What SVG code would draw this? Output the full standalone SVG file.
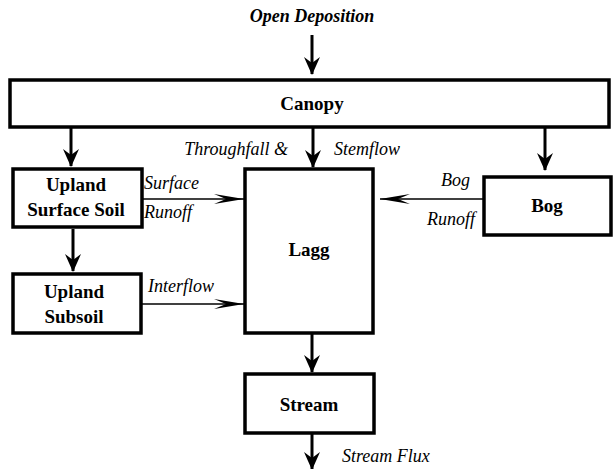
<svg xmlns="http://www.w3.org/2000/svg" width="613" height="469" viewBox="0 0 613 469">
  <defs>
    <marker id="headBig" viewBox="0 0 18 16" refX="17" refY="8" markerWidth="18" markerHeight="16" markerUnits="userSpaceOnUse" orient="auto">
      <path d="M0,0 L18,8 L0,16 L6,8 Z" fill="#000"/>
    </marker>
    <marker id="headSmall" viewBox="0 0 30 10" refX="30" refY="5" markerWidth="30" markerHeight="10" markerUnits="userSpaceOnUse" orient="auto">
      <path d="M0,0 L30,5 L0,10 L12,5 Z" fill="#000"/>
    </marker>
  </defs>

  <text x="312" y="22" font-family="Liberation Serif, serif" font-size="18" font-style="italic" font-weight="bold" text-anchor="middle">Open Deposition</text>

  <g id="canopy">
    <rect x="10" y="80" width="599" height="47" fill="#fff" stroke="#000" stroke-width="3.5"/>
    <text x="312" y="110" font-family="Liberation Serif, serif" font-size="19" font-weight="bold" text-anchor="middle">Canopy</text>
  </g>
  <g id="upland-surface-soil">
    <rect x="13" y="169" width="129" height="58" fill="#fff" stroke="#000" stroke-width="3.5"/>
    <text x="76" y="191" font-family="Liberation Serif, serif" font-size="19" font-weight="bold" text-anchor="middle">Upland</text>
    <text x="76" y="216" font-family="Liberation Serif, serif" font-size="19" font-weight="bold" text-anchor="middle">Surface Soil</text>
  </g>
  <g id="upland-subsoil">
    <rect x="13" y="274" width="128" height="59" fill="#fff" stroke="#000" stroke-width="3.5"/>
    <text x="74" y="298" font-family="Liberation Serif, serif" font-size="19" font-weight="bold" text-anchor="middle">Upland</text>
    <text x="74" y="323" font-family="Liberation Serif, serif" font-size="19" font-weight="bold" text-anchor="middle">Subsoil</text>
  </g>
  <g id="lagg">
    <rect x="245" y="169" width="128" height="164" fill="#fff" stroke="#000" stroke-width="3.5"/>
    <text x="309" y="256" font-family="Liberation Serif, serif" font-size="19" font-weight="bold" text-anchor="middle">Lagg</text>
  </g>
  <g id="bog">
    <rect x="484" y="177" width="127" height="58" fill="#fff" stroke="#000" stroke-width="3.5"/>
    <text x="547" y="212" font-family="Liberation Serif, serif" font-size="19" font-weight="bold" text-anchor="middle">Bog</text>
  </g>
  <g id="stream">
    <rect x="245" y="374" width="129" height="59" fill="#fff" stroke="#000" stroke-width="3.5"/>
    <text x="309" y="411" font-family="Liberation Serif, serif" font-size="19" font-weight="bold" text-anchor="middle">Stream</text>
  </g>

  <g id="connectors" stroke="#000" fill="none">
    <line x1="312" y1="35" x2="312" y2="74" stroke-width="3" marker-end="url(#headBig)"/>
    <line x1="71" y1="128" x2="71" y2="166" stroke-width="3" marker-end="url(#headBig)"/>
    <line x1="313" y1="128" x2="313" y2="167" stroke-width="3" marker-end="url(#headBig)"/>
    <line x1="545" y1="128" x2="545" y2="170" stroke-width="3" marker-end="url(#headBig)"/>
    <line x1="73" y1="229" x2="73" y2="271" stroke-width="3" marker-end="url(#headBig)"/>
    <line x1="143" y1="199" x2="244" y2="199" stroke-width="1.6" marker-end="url(#headSmall)"/>
    <line x1="142" y1="304" x2="244" y2="304" stroke-width="1.6" marker-end="url(#headSmall)"/>
    <line x1="483" y1="199" x2="380" y2="199" stroke-width="1.6" marker-end="url(#headSmall)"/>
    <line x1="312" y1="334" x2="312" y2="372" stroke-width="3" marker-end="url(#headBig)"/>
    <line x1="312" y1="434" x2="312" y2="469" stroke-width="3" marker-end="url(#headBig)"/>
  </g>

  <text x="288" y="155" font-family="Liberation Serif, serif" font-size="18" font-style="italic" text-anchor="end">Throughfall &amp;</text>
  <text x="334" y="155" font-family="Liberation Serif, serif" font-size="18" font-style="italic">Stemflow</text>
  <text x="144" y="189" font-family="Liberation Serif, serif" font-size="18" font-style="italic">Surface</text>
  <text x="144" y="218" font-family="Liberation Serif, serif" font-size="18" font-style="italic">Runoff</text>
  <text x="148" y="292" font-family="Liberation Serif, serif" font-size="18" font-style="italic">Interflow</text>
  <text x="470" y="186" font-family="Liberation Serif, serif" font-size="18" font-style="italic" text-anchor="end">Bog</text>
  <text x="475" y="225" font-family="Liberation Serif, serif" font-size="18" font-style="italic" text-anchor="end">Runoff</text>
  <text x="342" y="462" font-family="Liberation Serif, serif" font-size="18" font-style="italic">Stream Flux</text>
</svg>
